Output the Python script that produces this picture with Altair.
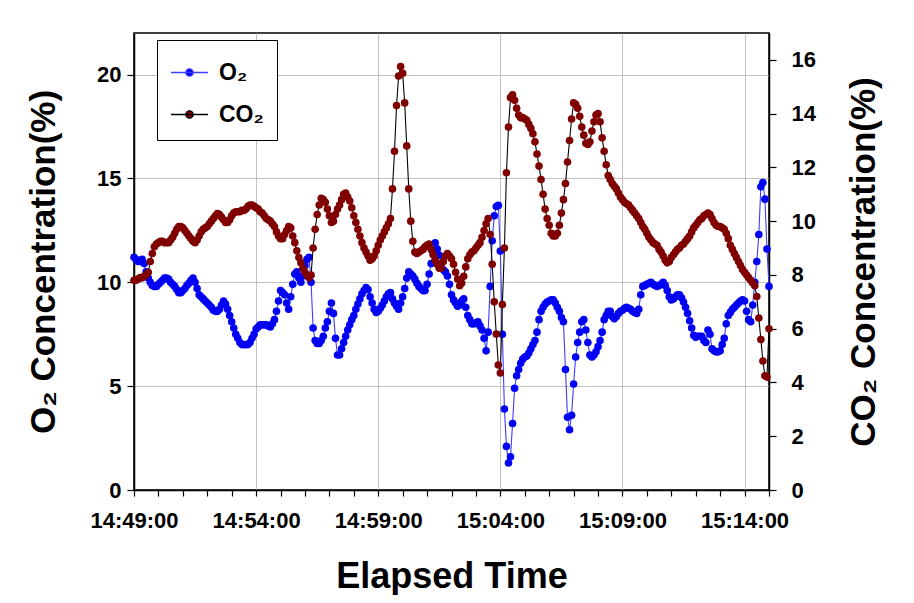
import altair as alt
import pandas as pd

# readings every 10 s from 14:49:00 (seconds after 14:49:00)
t_main = list(range(0, 1561, 10))
# readings at the 5 s offsets in between
t_mid = list(range(5, 1556, 10))

o2_main = [11.2, 11.0, 11.1, 10.5, 10.0, 9.8, 9.9, 10.1, 10.2, 10.0,
           9.8, 9.5, 9.6, 9.85, 10.1, 10.0, 9.4, 9.2, 9.0, 8.8,
           8.6, 8.7, 9.1, 8.7, 8.1, 7.5, 7.1, 7.0, 7.0, 7.3,
           7.75, 7.95, 7.95, 7.9, 8.0, 8.6, 9.6, 9.4, 8.7, 9.9,
           10.5, 10.0, 10.8, 11.2, 7.8, 7.05, 7.2, 7.8, 8.6, 8.5,
           6.5, 6.8, 7.4, 7.95, 8.4, 8.95, 9.45, 9.75, 9.3, 8.7,
           8.6, 8.9, 9.3, 9.5, 9.0, 8.7, 9.3, 10.2, 10.4, 10.15,
           9.8, 9.6, 9.9, 10.9, 11.9, 11.3, 10.6, 10.3, 9.4, 9.0,
           8.9, 9.2, 8.4, 8.0, 8.05, 7.9, 7.3, 7.6, 12.0, 13.65,
           11.5, 3.9, 1.3, 3.2, 5.5, 6.1, 6.4, 6.6, 7.0, 7.6,
           8.6, 8.95, 9.1, 9.15, 8.8, 8.3, 5.8, 2.9, 5.1, 7.1,
           8.1, 7.7, 6.5, 6.5, 6.9, 7.6, 8.4, 8.6, 8.25, 8.5,
           8.65, 8.8, 8.7, 8.55, 8.7, 9.8, 9.9, 10.0, 9.85, 9.85,
           10.0, 9.6, 9.15, 9.3, 9.4, 9.05, 8.5, 7.8, 7.35, 7.4,
           7.2, 7.7, 6.8, 6.65, 6.7, 7.3, 8.4, 8.7, 8.9, 9.1,
           9.1, 8.2, 8.9, 11.0, 14.6, 14.0, 9.8]

o2_mid = [11.1, 11.0, 10.9, 10.2, 9.85, 9.8, 10.0, 10.2, 10.15, 9.9,
          9.65, 9.5, 9.7, 9.95, 10.2, 9.7, 9.3, 9.1, 8.9, 8.65,
          8.6, 8.9, 8.95, 8.4, 7.8, 7.3, 7.0, 7.0, 7.1, 7.5,
          7.85, 7.95, 7.95, 7.85, 8.2, 9.1, 9.5, 9.0, 9.3, 10.4,
          10.2, 10.3, 11.1, 10.0, 7.2, 7.05, 7.4, 8.1, 9.0, 7.3,
          6.5, 7.1, 7.7, 8.2, 8.7, 9.2, 9.6, 9.65, 9.0, 8.55,
          8.75, 9.1, 9.45, 9.2, 8.85, 9.0, 9.7, 10.5, 10.3, 9.95,
          9.7, 9.6, 10.4, 11.4, 11.6, 10.9, 10.5, 9.9, 9.15, 8.85,
          9.1, 8.8, 8.2, 8.0, 8.1, 7.7, 6.7, 9.8, 13.2, 13.7,
          7.5, 2.1, 1.6, 4.9, 5.8, 6.3, 6.45, 6.8, 7.2, 8.2,
          8.8, 9.05, 9.15, 9.0, 8.6, 8.1, 3.5, 3.6, 6.4, 7.6,
          8.2, 7.1, 6.4, 6.65, 7.2, 8.2, 8.6, 8.35, 8.35, 8.6,
          8.75, 8.75, 8.6, 8.5, 9.4, 9.85, 9.95, 9.9, 9.8, 9.9,
          9.85, 9.3, 9.2, 9.4, 9.25, 8.8, 8.15, 7.45, 7.4, 7.4,
          7.1, 7.5, 6.7, 6.65, 7.0, 8.0, 8.55, 8.8, 9.0, 9.15,
          8.6, 8.1, 10.0, 12.3, 14.8, 11.6]

co2_main = [7.8, 7.85, 7.9, 8.0, 8.5, 9.05, 9.2, 9.25, 9.2, 9.3,
            9.55, 9.8, 9.75, 9.55, 9.35, 9.2, 9.45, 9.7, 9.8, 10.0,
            10.2, 10.25, 10.05, 9.95, 10.2, 10.35, 10.35, 10.4, 10.55, 10.6,
            10.5, 10.35, 10.2, 10.05, 9.9, 9.6, 9.35, 9.5, 9.8, 9.45,
            8.9, 8.45, 8.1, 7.9, 9.0, 10.25, 10.85, 10.7, 10.2, 10.0,
            10.45, 10.8, 11.05, 10.75, 10.2, 9.7, 9.2, 8.85, 8.55, 8.7,
            9.1, 9.45, 9.75, 10.1, 12.6, 15.4, 15.5, 12.8, 10.0, 8.85,
            8.85, 8.95, 9.1, 8.95, 8.55, 8.25, 8.5, 8.8, 8.6, 8.1,
            7.6, 7.95, 8.6, 8.85, 9.0, 9.2, 9.65, 10.1, 8.4, 5.8,
            4.35, 9.0, 13.5, 14.7, 14.2, 13.85, 13.8, 13.6, 13.25, 12.5,
            11.55, 10.45, 9.85, 9.45, 9.55, 10.3, 11.4, 13.0, 14.4, 14.2,
            13.5, 12.9, 12.95, 13.7, 14.0, 13.1, 12.1, 11.55, 11.3, 11.05,
            10.8, 10.65, 10.5, 10.3, 10.1, 9.8, 9.55, 9.3, 9.15, 8.95,
            8.7, 8.45, 8.65, 8.85, 9.0, 9.15, 9.35, 9.6, 9.85, 10.05,
            10.2, 10.3, 10.1, 9.85, 9.8, 9.7, 9.35, 8.95, 8.65, 8.35,
            8.1, 7.9, 7.7, 7.2, 5.6, 4.25, 6.0]

co2_mid = [7.8, 7.9, 7.95, 8.1, 8.8, 9.15, 9.25, 9.2, 9.2, 9.4,
           9.7, 9.8, 9.65, 9.45, 9.25, 9.3, 9.6, 9.75, 9.9, 10.1,
           10.28, 10.15, 9.95, 10.05, 10.3, 10.35, 10.4, 10.45, 10.6, 10.55,
           10.45, 10.3, 10.1, 10.0, 9.8, 9.45, 9.35, 9.65, 9.75, 9.2,
           8.65, 8.25, 8.0, 8.0, 9.7, 10.6, 10.8, 10.45, 9.95, 10.25,
           10.6, 11.0, 10.9, 10.5, 9.95, 9.45, 9.0, 8.7, 8.6, 8.9,
           9.3, 9.6, 9.9, 11.2, 14.3, 15.75, 14.4, 11.2, 9.25, 8.8,
           8.9, 9.05, 9.15, 8.75, 8.4, 8.25, 8.7, 8.7, 8.4, 7.85,
           7.7, 8.3, 8.75, 8.9, 9.1, 9.4, 9.9, 9.5, 7.0, 4.65,
           6.9, 11.8, 14.6, 14.5, 13.95, 13.85, 13.75, 13.45, 12.95, 12.05,
           11.0, 10.1, 9.55, 9.45, 9.85, 10.8, 12.2, 13.8, 14.35, 13.9,
           13.2, 12.85, 13.35, 13.95, 13.7, 12.6, 11.7, 11.4, 11.2, 10.9,
           10.7, 10.6, 10.4, 10.2, 9.95, 9.7, 9.4, 9.2, 9.1, 8.85,
           8.55, 8.5, 8.75, 8.95, 9.1, 9.25, 9.45, 9.75, 9.95, 10.1,
           10.25, 10.25, 9.95, 9.8, 9.75, 9.55, 9.1, 8.8, 8.5, 8.2,
           8.0, 7.8, 7.6, 6.4, 4.8, 4.2]

series_names = ["O\u2082", "CO\u2082"]
dot_colors = ["#0000F5", "#800000"]
line_colors = ["#3c3cff", "#000000"]

t_all = t_main + t_mid
df_o2 = pd.DataFrame({"t": t_all, "v": o2_main + o2_mid}).sort_values("t")
df_co2 = pd.DataFrame({"t": t_all, "v": co2_main + co2_mid}).sort_values("t")
df_o2["series"] = series_names[0]
df_co2["series"] = series_names[1]

FONT = "Liberation Sans"
W, H = 635, 457

label_expr = (
    "datum.value % 300 === 0 ? "
    "(floor((53340 + datum.value) / 3600) + ':' + "
    "(floor(((53340 + datum.value) % 3600) / 60) < 10 ? '0' : '') + "
    "floor(((53340 + datum.value) % 3600) / 60) + ':00') : ''"
)

x_enc = alt.X(
    "t:Q",
    scale=alt.Scale(domain=[0, 1560], nice=False, zero=False),
    axis=alt.Axis(
        values=list(range(0, 1561, 60)),
        labelExpr=label_expr,
        title="Elapsed Time",
        titleFont=FONT, titleFontSize=36, titleFontWeight="bold",
        titleX=W / 2, titleY=86, titleBaseline="middle", titleAlign="center",
        labelFont=FONT, labelFontSize=22, labelFontWeight="bold", labelColor="black",
        labelPadding=14, labelOverlap=False, labelFlush=False,
        tickSize=6, tickColor="black", tickWidth=1.2,
        domainColor="black", domainWidth=1.5,
        grid=True, gridColor="#c0c0c0", gridWidth=1,
        gridOpacity={"condition": {"test": "datum.value % 300 === 0", "value": 1}, "value": 0},
    ),
)

o2_axis = alt.Axis(
    values=[0, 5, 10, 15, 20],
    title="O\u2082 Concentration(%)",
    titleFont=FONT, titleFontSize=35, titleFontWeight="bold",
    titleX=-91, titleY=H / 2, titleAngle=270, titleBaseline="middle", titleAlign="center",
    labelFont=FONT, labelFontSize=22, labelFontWeight="bold", labelColor="black",
    labelPadding=6, tickSize=7, tickColor="black", tickWidth=1.2,
    domainColor="black", domainWidth=1.5,
    grid=True, gridColor="#c0c0c0", gridWidth=1,
)

co2_axis = alt.Axis(
    values=[0, 2, 4, 6, 8, 10, 12, 14, 16],
    orient="right",
    title="CO\u2082 Concentration(%)",
    titleFont=FONT, titleFontSize=35, titleFontWeight="bold",
    titleX=94, titleY=H / 2, titleAngle=270, titleBaseline="middle", titleAlign="center",
    labelFont=FONT, labelFontSize=22, labelFontWeight="bold", labelColor="black",
    labelPadding=15, tickSize=7, tickColor="black", tickWidth=1.2,
    domainColor="black", domainWidth=1.5,
    grid=False,
)

sym_path = "M-1,0L1,0M-0.2,0A0.2,0.2,0,1,1,0.2,0A0.2,0.2,0,1,1,-0.2,0Z"

legend_kw = dict(
    title=None, orient="none", legendX=23, legendY=7,
    strokeColor="black", fillColor="white", padding=13,
    symbolType=sym_path, symbolSize=1369, symbolStrokeWidth=1.3,
    labelFont=FONT, labelFontSize=23, labelFontWeight="bold", labelColor="black",
    labelOffset=10, rowPadding=10,
)
fill_enc = alt.Fill("series:N", scale=alt.Scale(domain=series_names, range=dot_colors),
                    legend=alt.Legend(**legend_kw))
stroke_enc = alt.Stroke("series:N", scale=alt.Scale(domain=series_names, range=line_colors),
                        legend=alt.Legend(**legend_kw))

y_o2 = alt.Y("v:Q", scale=alt.Scale(domain=[0, 22], nice=False), axis=o2_axis)
y_co2 = alt.Y("v:Q", scale=alt.Scale(domain=[0, 17], nice=False), axis=co2_axis)

o2_base = alt.Chart(df_o2).encode(x=x_enc, y=y_o2)
co2_base = alt.Chart(df_co2).encode(x=x_enc, y=y_co2)

o2_layer = alt.layer(
    o2_base.mark_line(strokeWidth=1.1).encode(stroke=stroke_enc),
    o2_base.mark_circle(size=58, opacity=1).encode(fill=fill_enc),
)
co2_layer = alt.layer(
    co2_base.mark_line(strokeWidth=1.1).encode(stroke=stroke_enc),
    co2_base.mark_circle(size=58, opacity=1).encode(fill=fill_enc),
)

chart = (
    alt.layer(o2_layer, co2_layer)
    .resolve_scale(y="independent", fill="shared", stroke="shared")
    .properties(
        width=W, height=H,
        autosize=alt.AutoSizeParams(type="none"),
        padding={"left": 126, "top": 25, "right": 137, "bottom": 105},
        background="white",
    )
    .configure_view(stroke="black", strokeWidth=1.5)
)

chart.save("out.html", embed_options={"renderer": "svg", "actions": False})
